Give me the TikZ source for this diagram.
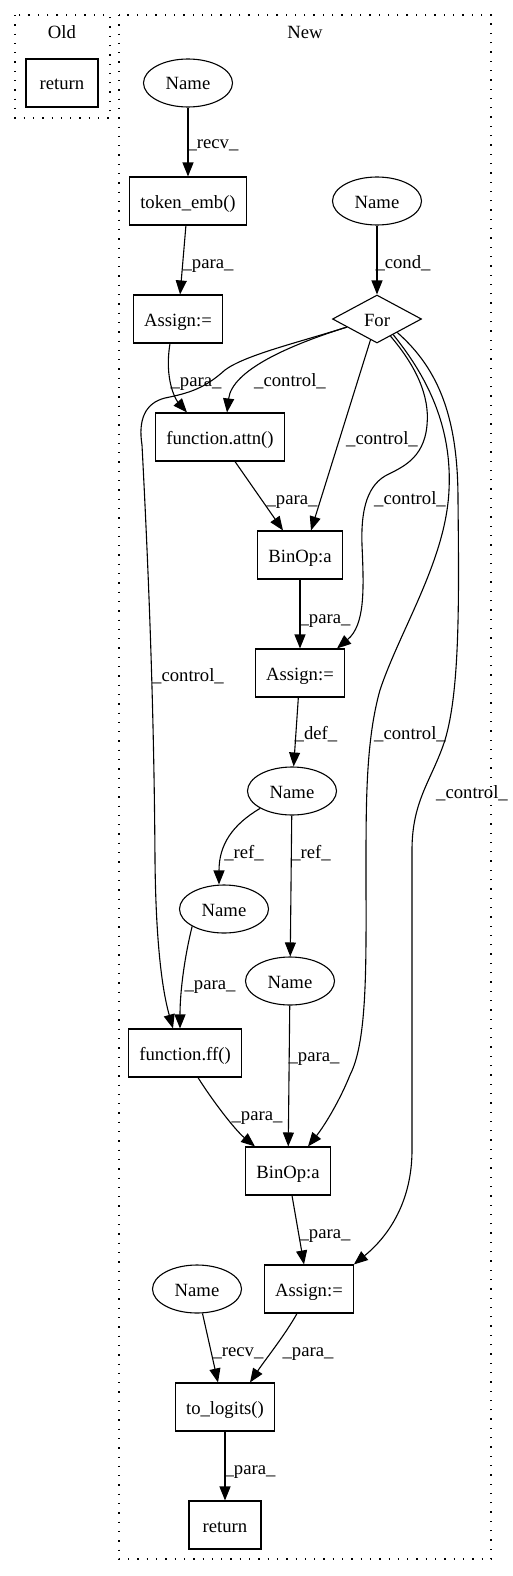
\documentclass[tikz,border=0pt]{standalone}
\usepackage{fontspec}
\setmainfont{Liberation Serif}
\usetikzlibrary{shapes.geometric, arrows.meta, calc}

\begin{document}
\begin{tikzpicture}[x=1pt, y=-1pt, line width=1.1pt,
		every node/.style={font=\fontsize{18.67}{22}\selectfont, text height=15pt, text depth=1pt},
		ent/.style={draw, shape=rectangle, minimum width=72pt, minimum height=48pt, inner xsep=10.5pt, inner ysep=0pt},
		att/.style={draw, shape=ellipse, minimum width=89pt, minimum height=48pt, inner sep=0pt},
		cond/.style={draw, shape=diamond, minimum width=89pt, minimum height=48pt, inner sep=0pt},
		edge/.style={-{Triangle[length=14pt, width=11pt]}},
		lbl/.style={anchor=base, inner sep=0pt, yshift=-6pt},
		cluster/.style={dash pattern=on 1.3pt off 8pt}]
		\useasboundingbox (0,0) rectangle (512,1576);
		\draw[cluster] (15,15) rectangle (110,118);
		\draw[cluster] (119,15) rectangle (491,1559);
		\node (oldtitle) [lbl] at (62,33) {Old};
		\node (newtitle) [lbl] at (305,33) {New};

		\node (oldreturn) [ent] at (62,83) {return};

		\node (embname) [att] at (188,83) {Name};
		\node (tokenemb) [ent] at (188,201) {token\_emb()};
		\node (itername) [att] at (377,201) {Name};
		\node (assignone) [ent] at (178,319) {Assign:=};
		\node (forloop) [cond] at (377,319) {For};
		\node (attn) [ent] at (220,437) {function.attn()};
		\node (binopone) [ent] at (300,555) {BinOp:a};
		\node (assigntwo) [ent] at (300,673) {Assign:=};
		\node (xname) [att] at (292,791) {Name};
		\node (xrefa) [att] at (224,909) {Name};
		\node (xrefb) [att] at (290,981) {Name};
		\node (ff) [ent] at (185,1053) {function.ff()};
		\node (binoptwo) [ent] at (288,1171) {BinOp:a};
		\node (assignthree) [ent] at (309,1289) {Assign:=};
		\node (logitname) [att] at (197,1289) {Name};
		\node (tologits) [ent] at (225,1407) {to\_logits()};
		\node (newreturn) [ent] at (225,1525) {return};

		\draw[edge] (embname) -- (tokenemb) node[lbl] at (213,143) {\_recv\_};
		\draw[edge] (tokenemb) -- (assignone) node[lbl] at (208,262) {\_para\_};
		\draw[edge] (itername) -- (forloop) node[lbl] at (403,262) {\_cond\_};
		\draw[edge] ([xshift=-8pt]assignone.south) .. controls (164,380) and (176,400) .. ([xshift=-33pt]attn.north) node[lbl] at (196,380) {\_para\_};
		\draw[edge] ($(forloop.west)!.33!(forloop.south)$) .. controls (290,345) and (232,370) .. ([xshift=7pt]attn.north) node[lbl] at (290,380) {\_control\_};
		\draw[edge] ($(forloop.west)!.33!(forloop.south)$) .. controls (300,342) and (245,355) .. (225,370) .. controls (205,388) and (190,393) .. (165,398) .. controls (145,403) and (138,420) .. (142,445) .. controls (148,560) and (154,700) .. (155,860) .. controls (156,960) and (165,1000) .. ([xshift=-12pt]ff.north) node[lbl] at (188,675) {\_control\_};
		\draw[edge] (forloop) -- ([xshift=11pt]binopone.north) node[lbl] at (382,438) {\_control\_};
		\draw[edge] ([xshift=15pt]attn.south) -- ([xshift=-17pt]binopone.north) node[lbl] at (292,498) {\_para\_};
		\draw[edge] ($(forloop.south)!.3!(forloop.east)$) .. controls (415,365) and (430,395) .. (427,425) .. controls (424,460) and (400,468) .. (385,476) .. controls (365,488) and (361,515) .. (362,545) .. controls (364,590) and (365,625) .. ([xshift=37pt]assigntwo.north) node[lbl] at (410,498) {\_control\_};
		\draw[edge] (binopone) -- (assigntwo) node[lbl] at (325,617) {\_para\_};
		\draw[edge] (assigntwo) -- (xname) node[lbl] at (316,733) {\_def\_};
		\draw[edge] ($(forloop.south)!.36!(forloop.east)$) .. controls (430,380) and (452,430) .. (449,490) .. controls (446,560) and (400,630) .. (380,690) .. controls (366,740) and (366,800) .. (366,870) .. controls (366,960) and (368,1040) .. (350,1075) .. controls (340,1100) and (325,1125) .. ([xshift=20pt]binoptwo.north) node[lbl] at (410,733) {\_control\_};
		\draw[edge] ($(forloop.south)!.45!(forloop.east)$) .. controls (440,370) and (458,420) .. (458,500) .. controls (459,600) and (460,690) .. (445,740) .. controls (432,780) and (412,800) .. (412,850) -- (412,1150) .. controls (412,1200) and (390,1235) .. (assignthree.north east) node[lbl] at (472,792) {\_control\_};

		\draw[edge] (xname.south west) .. controls (232,825) and (219,845) .. ([xshift=-5pt]xrefa.north) node[lbl] at (244,852) {\_ref\_};
		\draw[edge] (xname) -- (xrefb) node[lbl] at (311,852) {\_ref\_};
		\draw[edge] (xrefa.south west) .. controls (185,955) and (180,990) .. ([xshift=-5pt]ff.north) node[lbl] at (210,983) {\_para\_};
		\draw[edge] (xrefb) -- (binoptwo) node[lbl] at (314,1055) {\_para\_};
		\draw[edge] ([xshift=13pt]ff.south) .. controls (212,1100) and (235,1130) .. ([xshift=-33pt]binoptwo.north) node[lbl] at (257,1114) {\_para\_};
		\draw[edge] ([xshift=4pt]binoptwo.south) -- ([xshift=-5pt]assignthree.north) node[lbl] at (325,1232) {\_para\_};
		\draw[edge] (logitname) -- ([xshift=-7pt]tologits.north) node[lbl] at (238,1350) {\_recv\_};
		\draw[edge] ([xshift=-12pt]assignthree.south) .. controls (285,1335) and (265,1360) .. ([xshift=25pt]tologits.north) node[lbl] at (308,1350) {\_para\_};
		\draw[edge] (tologits) -- (newreturn) node[lbl] at (250,1468) {\_para\_};
\end{tikzpicture}
\end{document}
